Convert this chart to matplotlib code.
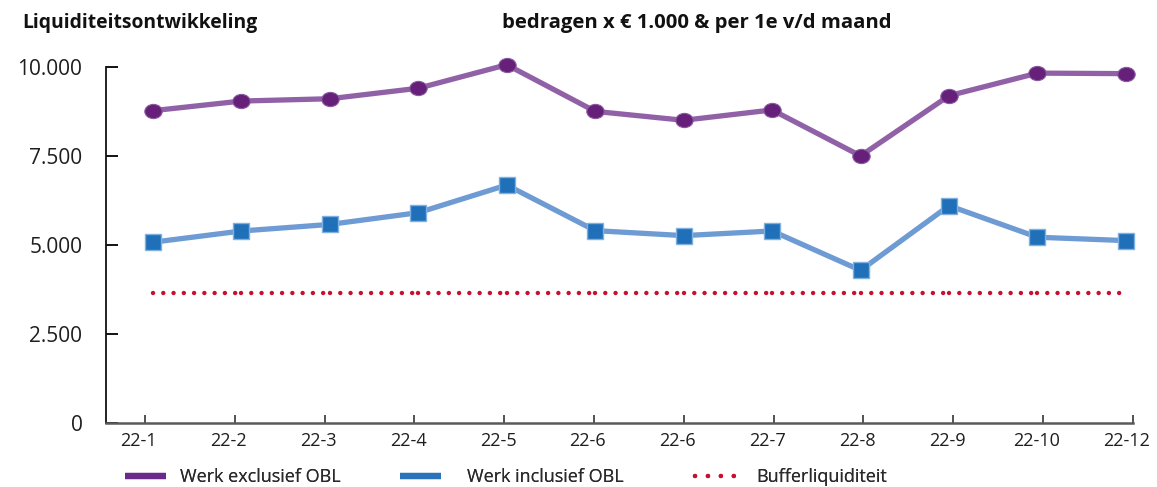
import numpy as np
import matplotlib
matplotlib.use("Agg")
import matplotlib.pyplot as plt
from matplotlib.path import Path
from matplotlib.transforms import Affine2D
from matplotlib.lines import Line2D

# ---- data ----
months = ["22-1", "22-2", "22-3", "22-4", "22-5", "22-6", "22-6", "22-7", "22-8", "22-9", "22-10", "22-12"]
werk_excl = [8765, 9035, 9100, 9395, 10055, 8745, 8495, 8785, 7495, 9185, 9820, 9805]
werk_incl = [5070, 5385, 5570, 5900, 6675, 5395, 5255, 5385, 4280, 6095, 5210, 5115]
buffer_liq = [3635] * 12
yticks = [0, 2500, 5000, 7500, 10000]
ytick_labels = ["0", "2.500", "5.000", "7.500", "10.000"]
legend_labels = ["Werk exclusief OBL", "Werk inclusief OBL", "Bufferliquiditeit"]

plt.rcParams['font.family'] = ['Open Sans', 'DejaVu Sans']

W, H = 1157, 487
fig = plt.figure(figsize=(W / 100, H / 100), dpi=100)
ax = fig.add_axes([106 / W, 64.3 / H, (1133 - 106) / W, (422.7 - 66.7) / H])

x = np.arange(len(months))

PURPLE_LINE = "#9061a6"
PURPLE_MK = "#66207a"
BLUE_LINE = "#6e9bd3"
BLUE_MK = "#1f70b9"
RED = "#c8102e"

ellipse = Path(Affine2D().scale(1.0, 0.82).transform(Path.unit_circle().vertices),
               Path.unit_circle().codes)

# buffer line drawn segment by segment (dotted)
for i in range(len(x) - 1):
    ax.plot(x[i:i + 2], buffer_liq[i:i + 2], color=RED, lw=3.2,
            linestyle=(0, (0.01, 2.3)), dash_capstyle="round", clip_on=False, zorder=2)

ax.plot(x, werk_incl, color=BLUE_LINE, lw=3.8, marker="s", markersize=11.3,
        markerfacecolor=BLUE_MK, markeredgecolor="#7fb0e0", markeredgewidth=1.0,
        clip_on=False, zorder=3)
ax.plot(x, werk_excl, color=PURPLE_LINE, lw=3.8, marker=ellipse, markersize=12.5,
        markerfacecolor=PURPLE_MK, markeredgecolor="#8a5aa0", markeredgewidth=0.8,
        clip_on=False, zorder=4)

ax.set_ylim(0, 10000)
ax.set_xlim(-0.531, 11.08)

for s in ["top", "right"]:
    ax.spines[s].set_visible(False)
ax.spines["left"].set_color("#111111")
ax.spines["left"].set_linewidth(1.3)
ax.spines["bottom"].set_color("#5a5a5a")
ax.spines["bottom"].set_linewidth(1.8)

# y ticks
ax.set_yticks(yticks)
ax.set_yticklabels(ytick_labels)
ax.tick_params(axis="y", direction="in", length=8.6, width=1.3, pad=17,
               labelsize=15, labelcolor="#1e1e1e")
tick_cols = ["#111111", "#555555", "#555555", "#6a2080", "#111111"]
for t, c in zip(ax.yaxis.get_major_ticks(), tick_cols):
    t.tick1line.set_color(c)

# x ticks (marks) and labels slightly offset to the left
tick_pos = -0.09 + 1.0153 * np.arange(len(months))
ax.set_xticks(tick_pos)
ax.set_xticklabels([""] * len(months))
ax.tick_params(axis="x", which="major", direction="in", length=6, width=1.3, color="#444444")
ax.set_xticks(tick_pos - 0.07, minor=True)
ax.set_xticklabels(months, minor=True)
ax.tick_params(axis="x", which="minor", length=0, pad=7, labelsize=13, labelcolor="#1e1e1e")

# titles
fig.text(22 / W, 1 - 23 / H, "Liquiditeitsontwikkeling", fontsize=13.9, fontweight="bold",
         color="#111111", va="center", ha="left")
fig.text(502 / W, 1 - 23 / H, "bedragen x € 1.000 & per 1e v/d maand", fontsize=14.6,
         fontweight="bold", color="#111111", va="center", ha="left")

# legend: three single-entry legends
handles = [
    Line2D([], [], color="#6a2a8a", lw=4.5, solid_capstyle="butt"),
    Line2D([], [], color="#2a72ba", lw=4.5, solid_capstyle="butt"),
    Line2D([], [], color=RED, lw=3.2, linestyle=(0, (0.01, 2.9)), dash_capstyle="round"),
]
starts = [125, 400, 695]
pads = [0.78, 1.44, 1.1]
for h, lab, sx, pd in zip(handles, legend_labels, starts, pads):
    leg = fig.legend([h], [lab], loc="center left", bbox_to_anchor=(sx / W, 1 - 477 / H),
                     frameon=False, fontsize=13, handlelength=2.27, handletextpad=pd,
                     borderaxespad=0, borderpad=0)
    for t in leg.get_texts():
        t.set_color("#2a2a2a")
    fig.add_artist(leg)

fig.savefig("out.png", dpi=100)
